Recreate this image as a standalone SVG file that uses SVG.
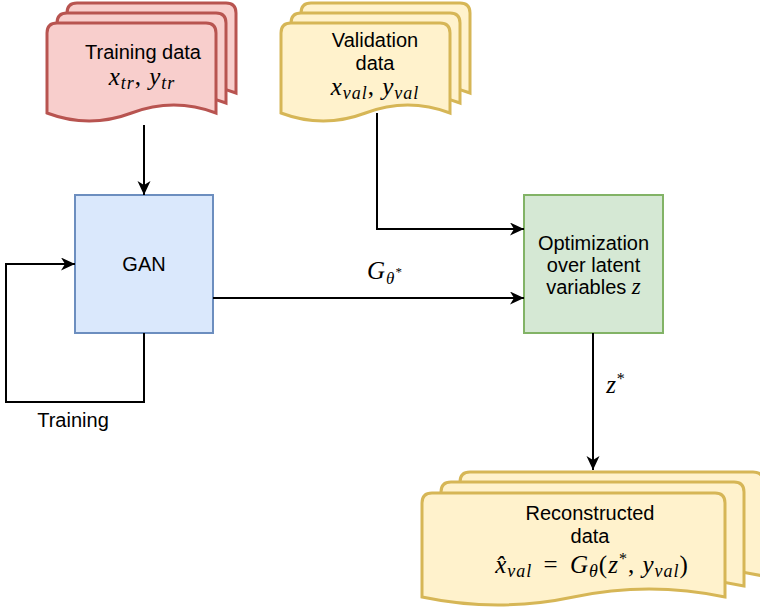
<svg xmlns="http://www.w3.org/2000/svg" width="760" height="610" viewBox="0 0 760 610">
<style>
.lbl{font-family:"Liberation Sans",Arial,sans-serif;font-size:20px;fill:#000;text-anchor:middle}
.math{font-family:"Liberation Serif","Times New Roman",serif;font-size:25px;fill:#000;text-anchor:middle;letter-spacing:1px}
.it{font-style:italic}
.red{fill:#f8cecc;stroke:#b85450;stroke-width:3}
.yel{fill:#fff2cc;stroke:#d6b656;stroke-width:3}
.blue{fill:#dae8fc;stroke:#6c8ebf;stroke-width:2}
.green{fill:#d5e8d4;stroke:#82b366;stroke-width:2}
.edge{fill:none;stroke:#000;stroke-width:2;marker-end:url(#arr)}
</style>
<defs>
<marker id="arr" markerUnits="userSpaceOnUse" markerWidth="15" markerHeight="14" refX="14" refY="6.5" orient="auto">
<path d="M0,0 L14,6.5 L0,13 L4,6.5 Z" fill="#000"/>
</marker>
<path id="docS" d="M0,10 Q0,0 10,0 H159 Q169,0 169,10 V90 Q126.75,74 84.5,90 Q42.25,106 0,90 Z"/>
<path id="docL" d="M0,10 Q0,0 10,0 H293 Q303,0 303,10 V104 Q227,88 151.5,104 Q76,120 0,104 Z"/>
</defs>

<g id="training-data">
<use href="#docS" class="red" transform="translate(67,3)"/>
<use href="#docS" class="red" transform="translate(57,13)"/>
<use href="#docS" class="red" transform="translate(47,23)"/>
<text class="lbl" x="143" y="59">Training data</text>
<text class="math" x="142" y="85"><tspan class="it">x</tspan><tspan class="it" font-size="18" dy="4">tr</tspan><tspan dy="-4">, </tspan><tspan class="it">y</tspan><tspan class="it" font-size="18" dy="4">tr</tspan></text>
</g>

<g id="validation-data">
<use href="#docS" class="yel" transform="translate(301,3)"/>
<use href="#docS" class="yel" transform="translate(291,13)"/>
<use href="#docS" class="yel" transform="translate(281,23)"/>
<text class="lbl" x="375" y="47">Validation</text>
<text class="lbl" x="375" y="70">data</text>
<text class="math" x="375" y="95"><tspan class="it">x</tspan><tspan class="it" font-size="18" dy="4">val</tspan><tspan dy="-4">, </tspan><tspan class="it">y</tspan><tspan class="it" font-size="18" dy="4">val</tspan></text>
</g>

<g id="gan">
<rect class="blue" x="75" y="195" width="138" height="138"/>
<text class="lbl" x="144" y="271">GAN</text>
</g>

<g id="optimization">
<rect class="green" x="524" y="195" width="139" height="138"/>
<text class="lbl" x="593.5" y="250">Optimization</text>
<text class="lbl" x="593.5" y="272">over latent</text>
<text class="lbl" x="593.5" y="294">variables <tspan font-family="Liberation Serif,serif" font-style="italic" font-size="23">z</tspan></text>
</g>

<g id="reconstructed-data">
<use href="#docL" class="yel" transform="translate(460,472)"/>
<use href="#docL" class="yel" transform="translate(441,482)"/>
<use href="#docL" class="yel" transform="translate(422,493)"/>
<text class="lbl" x="590" y="520">Reconstructed</text>
<text class="lbl" x="590" y="543">data</text>
<text class="math" x="592" y="573"><tspan class="it">x̂</tspan><tspan class="it" font-size="18" dy="4">val</tspan><tspan dy="-4" dx="4"> = </tspan><tspan class="it" dx="4">G</tspan><tspan class="it" font-size="18" dy="4">θ</tspan><tspan dy="-4">(</tspan><tspan class="it">z</tspan><tspan font-size="16" dy="-9">*</tspan><tspan dy="9">, </tspan><tspan class="it">y</tspan><tspan class="it" font-size="18" dy="4">val</tspan><tspan dy="-4">)</tspan></text>
</g>

<g id="connectors">
<path class="edge" d="M144,125 V195"/>
<path class="edge" d="M144,333 V402 H6 V264 H75"/>
<path class="edge" d="M377,113 V229 H524"/>
<path class="edge" d="M213,298 H524"/>
<path class="edge" d="M593,333 V470"/>
<text class="lbl" x="73" y="427" font-size="17.5">Training</text>
<text class="math" x="385" y="279"><tspan class="it">G</tspan><tspan class="it" font-size="17" dy="5">θ</tspan><tspan font-size="13" dy="-8">*</tspan></text>
<text class="math" x="616" y="393"><tspan class="it">z</tspan><tspan font-size="16" dy="-9">*</tspan></text>
</g>
</svg>
